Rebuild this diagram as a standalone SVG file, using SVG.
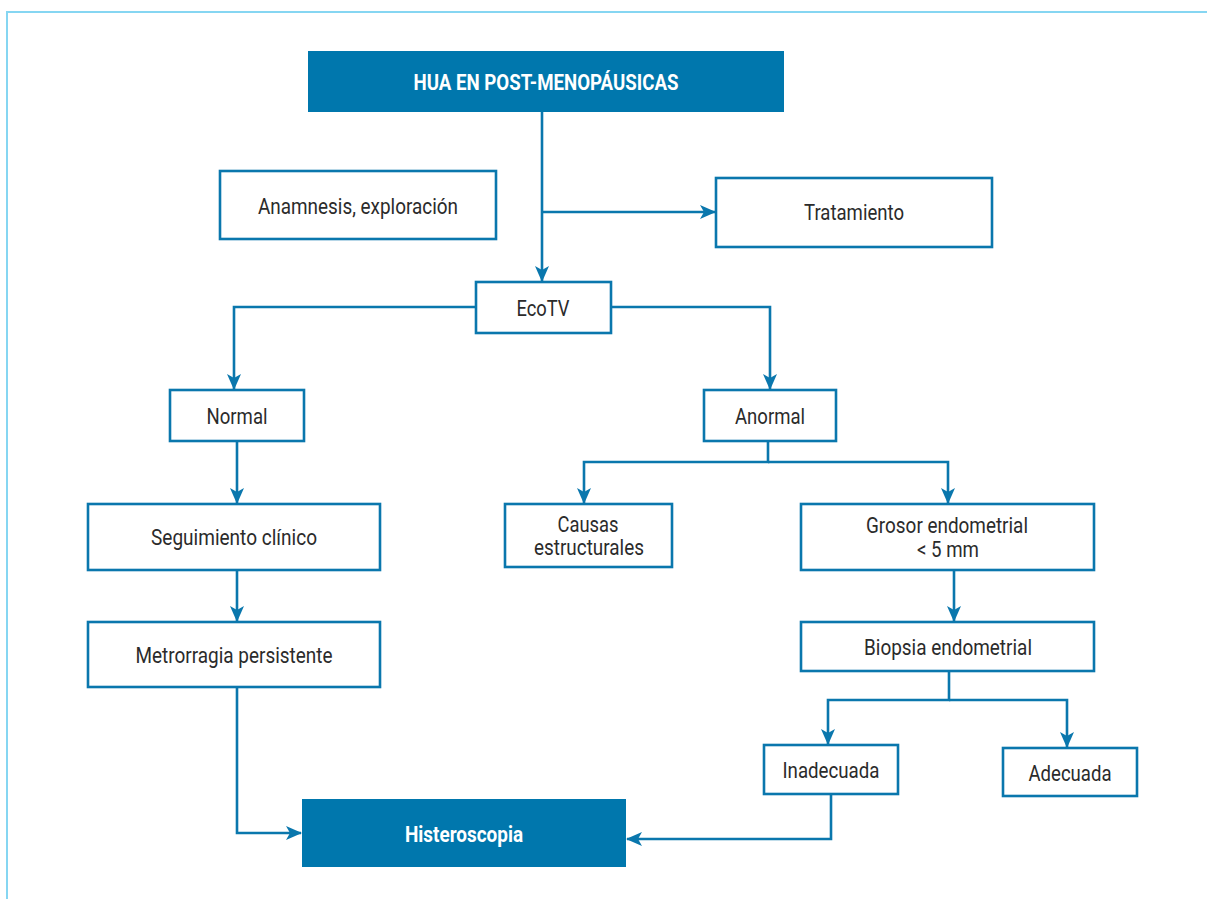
<svg xmlns="http://www.w3.org/2000/svg" width="1207" height="899" viewBox="0 0 1207 899">
  <style>
    .frame { fill: none; stroke: #86d6f2; stroke-width: 2; }
    .box { fill: #ffffff; stroke: #0a77ad; stroke-width: 2.6; }
    .hd { fill: #0077ad; stroke: none; }
    .lbl { font-family: Roboto, "Liberation Sans", sans-serif; font-size: 21.5px; fill: #2b2b2b; text-anchor: middle; }
    .hl { font-family: Roboto, "Liberation Sans", sans-serif; font-size: 21.5px; font-weight: 700; fill: #ffffff; text-anchor: middle; }
    .wire { fill: none; stroke: #0a77ad; stroke-width: 2.6; }
  </style>
  <defs>
    <marker id="arr" markerUnits="userSpaceOnUse" markerWidth="16" markerHeight="14" refX="15" refY="7" orient="auto">
      <path d="M0,0 L16,7 L0,14 L4,7 Z" fill="#0a77ad"/>
    </marker>
  </defs>

  <!-- outer frame -->
  <rect class="frame" x="7" y="12" width="1215" height="900"/>

  <!-- connectors -->
  <g id="connectors">
    <path class="wire" d="M542,112 V281" marker-end="url(#arr)"/>
    <path class="wire" d="M542,212 H715" marker-end="url(#arr)"/>
    <path class="wire" d="M476,307 H234 V389" marker-end="url(#arr)"/>
    <path class="wire" d="M611,307 H770 V389" marker-end="url(#arr)"/>
    <path class="wire" d="M237,441 V503" marker-end="url(#arr)"/>
    <path class="wire" d="M237,570 V621" marker-end="url(#arr)"/>
    <path class="wire" d="M237,687 V833 H301" marker-end="url(#arr)"/>
    <path class="wire" d="M768,441 V462 H584 V503" marker-end="url(#arr)"/>
    <path class="wire" d="M768,462 H948 V503" marker-end="url(#arr)"/>
    <path class="wire" d="M954,570 V621" marker-end="url(#arr)"/>
    <path class="wire" d="M949,671 V700 H828 V744" marker-end="url(#arr)"/>
    <path class="wire" d="M949,700 H1067 V747" marker-end="url(#arr)"/>
    <path class="wire" d="M831,794 V839 H627" marker-end="url(#arr)"/>
  </g>

  <!-- nodes -->
  <g id="n-hua">
    <rect class="hd" x="308" y="51" width="476" height="61"/>
    <text class="hl" x="546" y="90" textLength="265" lengthAdjust="spacingAndGlyphs">HUA EN POST-MENOPÁUSICAS</text>
  </g>
  <g id="n-anamnesis">
    <rect class="box" x="220" y="171" width="276" height="68"/>
    <text class="lbl" x="358" y="214" textLength="200" lengthAdjust="spacingAndGlyphs">Anamnesis, exploración</text>
  </g>
  <g id="n-tratamiento">
    <rect class="box" x="716" y="178" width="276" height="69"/>
    <text class="lbl" x="854" y="220" textLength="100" lengthAdjust="spacingAndGlyphs">Tratamiento</text>
  </g>
  <g id="n-ecotv">
    <rect class="box" x="476" y="282" width="135" height="51"/>
    <text class="lbl" x="543" y="316" textLength="53" lengthAdjust="spacingAndGlyphs">EcoTV</text>
  </g>
  <g id="n-normal">
    <rect class="box" x="170" y="390" width="134" height="51"/>
    <text class="lbl" x="237" y="424" textLength="61" lengthAdjust="spacingAndGlyphs">Normal</text>
  </g>
  <g id="n-anormal">
    <rect class="box" x="704" y="390" width="132" height="51"/>
    <text class="lbl" x="770" y="424" textLength="70" lengthAdjust="spacingAndGlyphs">Anormal</text>
  </g>
  <g id="n-seguimiento">
    <rect class="box" x="88" y="504" width="292" height="66"/>
    <text class="lbl" x="234" y="545" textLength="166" lengthAdjust="spacingAndGlyphs">Seguimiento clínico</text>
  </g>
  <g id="n-metrorragia">
    <rect class="box" x="88" y="622" width="292" height="65"/>
    <text class="lbl" x="234" y="663" textLength="197" lengthAdjust="spacingAndGlyphs">Metrorragia persistente</text>
  </g>
  <g id="n-histeroscopia">
    <rect class="hd" x="302" y="799" width="324" height="68"/>
    <text class="hl" x="464" y="842" textLength="118" lengthAdjust="spacingAndGlyphs">Histeroscopia</text>
  </g>
  <g id="n-causas">
    <rect class="box" x="505" y="504" width="167" height="63"/>
    <text class="lbl" x="588" y="532" textLength="61" lengthAdjust="spacingAndGlyphs">Causas</text>
    <text class="lbl" x="589" y="555" textLength="110" lengthAdjust="spacingAndGlyphs">estructurales</text>
  </g>
  <g id="n-grosor">
    <rect class="box" x="801" y="504" width="293" height="66"/>
    <text class="lbl" x="947" y="533" textLength="162" lengthAdjust="spacingAndGlyphs">Grosor endometrial</text>
    <text class="lbl" x="948" y="557" textLength="62" lengthAdjust="spacingAndGlyphs">&lt; 5 mm</text>
  </g>
  <g id="n-biopsia">
    <rect class="box" x="801" y="622" width="293" height="49"/>
    <text class="lbl" x="948" y="655" textLength="168" lengthAdjust="spacingAndGlyphs">Biopsia endometrial</text>
  </g>
  <g id="n-inadecuada">
    <rect class="box" x="764" y="745" width="134" height="49"/>
    <text class="lbl" x="831" y="778" textLength="97" lengthAdjust="spacingAndGlyphs">Inadecuada</text>
  </g>
  <g id="n-adecuada">
    <rect class="box" x="1003" y="748" width="134" height="48"/>
    <text class="lbl" x="1070" y="781" textLength="83" lengthAdjust="spacingAndGlyphs">Adecuada</text>
  </g>
</svg>
